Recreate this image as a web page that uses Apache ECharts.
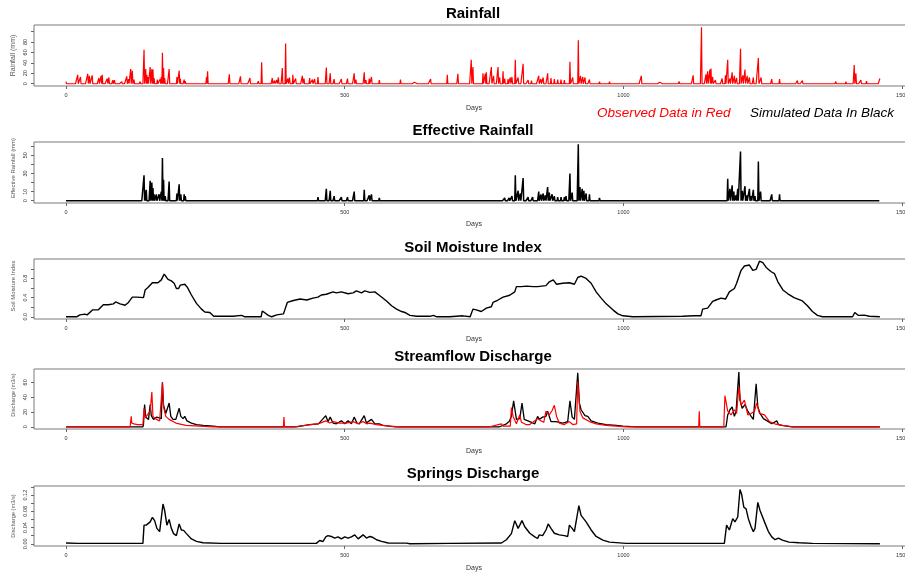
<!DOCTYPE html>
<html><head><meta charset="utf-8">
<script src="https://cdn.jsdelivr.net/npm/echarts@6/dist/echarts.min.js"></script>
<style>html,body{margin:0;padding:0;background:#fff;overflow:hidden;width:905px;height:573px}#c{width:925px;height:573px}</style>
</head><body><div id="c"></div>
<script>
// ---------------- DATA (days, values) ----------------
const nDays = 1461;
// Rainfall (mm): [day, value] for rain days, 0 elsewhere
const rainfallEvents = [[0,4],[21,17],[26,13],[39,19],[42,15],[47,16],[59,11],[63,15],[65,17],[74,10],[77,12],[84,7],[87,7],[100,4],[109,14],[112,9],[116,28],[119,25],[122,8],[133,4],[140,65],[143,28],[145,17],[147,13],[151,32],[154,28],[156,27],[158,11],[164,8],[169,9],[171,13],[173,59],[175,30],[177,11],[185,28],[199,13],[203,25],[205,10],[212,8],[214,5],[252,13],[254,24],[293,18],[313,14],[330,11],[345,5],[351,41],[370,11],[374,6],[378,7],[381,12],[388,30],[394,77],[398,10],[401,12],[407,17],[412,10],[424,15],[427,10],[437,11],[442,8],[446,9],[452,13],[467,31],[474,20],[481,9],[494,9],[505,10],[517,20],[520,8],[535,22],[538,7],[544,10],[548,13],[562,7],[600,8],[625,3],[654,9],[684,17],[703,19],[727,46],[730,32],[748,20],[752,19],[754,22],[763,32],[767,15],[775,32],[778,12],[784,24],[787,10],[793,9],[797,12],[800,13],[806,46],[811,12],[820,38],[829,7],[835,6],[848,15],[852,9],[856,12],[864,20],[870,11],[876,9],[882,8],[888,8],[894,7],[904,42],[909,12],[919,83],[923,15],[927,13],[931,12],[939,8],[957,4],[975,4],[1032,15],[1065,3],[1100,4],[1107,3],[1125,16],[1140,108],[1148,18],[1151,24],[1155,27],[1157,29],[1160,13],[1165,7],[1177,10],[1183,16],[1187,46],[1191,10],[1195,22],[1199,15],[1203,11],[1210,67],[1214,16],[1218,27],[1222,15],[1226,12],[1233,12],[1242,49],[1247,12],[1266,9],[1280,9],[1312,6],[1321,6],[1360,3],[1381,4],[1399,4],[1414,36],[1417,20],[1426,7],[1436,5],[1460,10]];
// Effective rainfall (mm)
const effRainEvents = [[140,28],[142,11],[144,12],[151,22],[154,20],[156,14],[158,7],[162,7],[167,7],[171,10],[173,47],[175,23],[178,5],[185,21],[199,8],[203,18],[206,7],[212,7],[214,5],[452,4],[467,13],[474,11],[481,5],[494,4],[505,4],[517,10],[535,12],[544,6],[548,7],[562,3],[787,3],[795,3],[800,5],[806,28],[811,11],[815,8],[820,25],[829,4],[837,4],[848,10],[852,7],[856,8],[860,6],[864,15],[867,9],[872,7],[876,5],[882,4],[888,4],[894,4],[897,5],[904,30],[908,9],[919,62],[922,15],[926,13],[929,11],[933,8],[939,7],[957,3],[1187,24],[1191,13],[1195,17],[1198,10],[1202,6],[1205,13],[1210,54],[1213,11],[1218,16],[1221,6],[1226,13],[1229,5],[1233,12],[1236,5],[1242,43],[1246,10],[1266,7],[1280,7]];
// Soil moisture index
const soilMoisture = [[0,0],[19,0],[25,0.04],[34,0.055],[38,0.04],[48,0.145],[58,0.145],[67,0.25],[76,0.25],[85,0.27],[89,0.31],[97,0.27],[106,0.24],[112,0.30],[119,0.41],[127,0.41],[139,0.40],[142,0.56],[147,0.61],[155,0.71],[165,0.71],[171,0.77],[176,0.89],[180,0.83],[183,0.78],[189,0.75],[194,0.70],[198,0.59],[202,0.59],[205,0.66],[213,0.68],[218,0.61],[225,0.455],[234,0.28],[243,0.16],[249,0.10],[258,0.09],[265,0.01],[300,0.01],[315,0.03],[321,0],[350,0],[352,0.12],[357,0.08],[363,0.03],[369,0],[378,0.04],[390,0.06],[393,0.16],[397,0.30],[408,0.34],[420,0.37],[432,0.35],[443,0.39],[452,0.41],[458,0.455],[467,0.47],[479,0.52],[485,0.50],[494,0.52],[506,0.48],[515,0.50],[521,0.54],[530,0.50],[536,0.54],[545,0.51],[554,0.52],[563,0.44],[575,0.33],[584,0.23],[593,0.16],[602,0.11],[608,0.09],[617,0.03],[629,0.01],[653,0.01],[659,0.03],[665,0],[682,0],[685,0.02],[688,0],[712,0.02],[725,0],[730,0.16],[736,0.145],[745,0.11],[754,0.18],[763,0.21],[766,0.30],[775,0.35],[784,0.41],[796,0.45],[805,0.52],[808,0.63],[817,0.63],[826,0.64],[838,0.63],[846,0.63],[849,0.66],[861,0.65],[867,0.73],[874,0.77],[880,0.68],[891,0.70],[903,0.71],[906,0.73],[912,0.68],[918,0.82],[924,0.85],[933,0.80],[942,0.70],[951,0.52],[960,0.39],[969,0.27],[981,0.145],[990,0.06],[999,0.02],[1017,0],[1106,0.01],[1127,0.02],[1139,0.02],[1142,0.16],[1151,0.18],[1160,0.32],[1166,0.35],[1175,0.39],[1183,0.37],[1190,0.52],[1199,0.59],[1203,0.70],[1211,0.97],[1217,1.06],[1226,1.08],[1232,0.97],[1238,0.99],[1244,1.16],[1250,1.13],[1256,1.03],[1265,0.94],[1271,0.90],[1277,0.73],[1286,0.56],[1295,0.48],[1306,0.40],[1321,0.33],[1330,0.23],[1339,0.11],[1348,0.03],[1357,0],[1411,0],[1415,0.09],[1421,0.03],[1432,0.035],[1441,0.01],[1460,0]];
// Streamflow discharge (m3/s): simulated (black) and observed (red)
const flowSimulated = [[0,0],[138,0],[139,3],[141,30],[143,13],[145,14],[148,10],[151,30],[153,15],[155,14],[157,10],[160,8],[163,13],[165,11],[171,11],[173,60],[175,29],[179,18],[185,32],[188,14],[192,10],[197,10],[203,25],[206,14],[210,11],[213,14],[217,8],[225,5],[234,3],[246,2],[264,1],[276,0],[413,0],[437,3],[453,4],[466,15],[470,7],[474,13],[479,5],[485,4],[494,8],[500,4],[506,8],[512,4],[517,13],[522,5],[526,4],[535,15],[539,5],[544,8],[548,10],[554,4],[562,4],[568,2],[580,1],[591,0],[778,0],[790,4],[795,7],[799,14],[803,35],[808,10],[814,11],[818,32],[822,10],[832,7],[841,4],[846,14],[849,10],[855,13],[861,14],[864,21],[870,7],[879,7],[891,5],[900,7],[904,35],[908,13],[912,10],[918,73],[921,32],[924,23],[927,21],[931,15],[936,14],[942,8],[954,5],[969,3],[987,2],[999,1],[1023,0],[1184,0],[1187,16],[1191,23],[1195,27],[1199,14],[1202,21],[1207,74],[1209,36],[1213,25],[1218,30],[1223,21],[1229,14],[1233,10],[1238,58],[1241,27],[1245,18],[1251,11],[1260,7],[1266,4],[1275,8],[1278,3],[1284,2],[1302,0],[1460,0]];
const flowObserved = [[0,0],[115,0],[117,14],[118,5],[122,4],[128,3],[138,3],[140,25],[142,12],[145,10],[151,21],[154,47],[156,14],[162,10],[168,8],[171,8],[173,59],[175,27],[179,14],[185,10],[197,5],[203,4],[215,2],[240,1],[264,0],[390,0],[391,13],[392,0],[410,0],[450,4],[456,5],[466,8],[473,5],[479,7],[491,5],[503,5],[515,7],[524,4],[533,7],[539,4],[545,5],[557,3],[569,2],[581,1],[599,0],[760,0],[781,4],[784,1],[797,1],[799,26],[802,14],[808,4],[814,16],[817,6],[825,3],[832,3],[846,11],[852,8],[857,6],[861,21],[867,16],[872,22],[876,29],[880,14],[885,5],[894,3],[903,7],[909,3],[916,4],[918,61],[922,21],[927,12],[939,7],[951,4],[969,2],[987,1],[1005,0],[1135,0],[1136,21],[1137,0],[1158,0],[1160,2],[1162,0],[1180,0],[1182,42],[1187,21],[1193,16],[1199,23],[1203,18],[1207,54],[1211,29],[1217,36],[1223,16],[1229,18],[1235,21],[1239,32],[1244,18],[1253,16],[1262,7],[1271,4],[1286,2],[1303,0],[1460,0]];
// Springs discharge (m3/s)
const springsFlow = [[0,0.002],[22,0.001],[138,0.001],[140,0.046],[144,0.046],[147,0.042],[151,0.054],[155,0.065],[159,0.057],[163,0.038],[168,0.030],[171,0.034],[174,0.098],[177,0.082],[181,0.046],[185,0.060],[189,0.038],[193,0.025],[198,0.020],[203,0.049],[207,0.034],[211,0.033],[216,0.025],[225,0.012],[234,0.006],[246,0.0024],[278,0.001],[449,0.001],[455,0.008],[461,0.0056],[466,0.017],[470,0.020],[476,0.018],[482,0.014],[488,0.017],[494,0.012],[500,0.017],[506,0.014],[512,0.017],[518,0.022],[524,0.012],[533,0.022],[539,0.014],[545,0.018],[550,0.016],[557,0.010],[566,0.006],[578,0.002],[611,0.0016],[617,0],[688,0.001],[781,0.002],[790,0.010],[799,0.025],[805,0.057],[811,0.038],[814,0.046],[818,0.057],[823,0.042],[832,0.026],[841,0.017],[846,0.013],[849,0.022],[855,0.020],[861,0.034],[865,0.049],[870,0.038],[876,0.026],[885,0.022],[894,0.020],[900,0.018],[903,0.046],[908,0.038],[912,0.030],[920,0.094],[924,0.070],[933,0.054],[942,0.034],[951,0.018],[963,0.009],[975,0.004],[1005,0.001],[1181,0.001],[1185,0.046],[1190,0.034],[1196,0.062],[1200,0.054],[1205,0.066],[1209,0.134],[1212,0.122],[1216,0.090],[1220,0.086],[1224,0.062],[1229,0.042],[1233,0.030],[1236,0.038],[1241,0.102],[1245,0.082],[1253,0.054],[1260,0.030],[1266,0.017],[1272,0.010],[1278,0.014],[1285,0.009],[1297,0.004],[1315,0.0024],[1339,0.001],[1460,0]];
// Tick values / labels
const xTicks = [0, 500, 1000, 1500];
const rainTicks = [0,20,40,60,80,100];      const rainLabels = [0,20,40,60,80];
const effTicks = [0,10,20,30,40,50,60];      const effLabels = [0,10,30,50];
const soilTicks = [0,0.2,0.4,0.6,0.8,1.0];   const soilLabels = [0,0.4,0.8];
const flowTicks = [0,20,40,60];              const flowLabels = [0,20,40,60];
const springTicks = [0,0.02,0.04,0.06,0.08,0.10,0.12,0.14]; const springLabels = [0,0.04,0.08,0.12];
const panelTitles = ['Rainfall','Effective Rainfall','Soil Moisture Index','Streamflow Discharge','Springs Discharge'];
const yNames = ['Rainfall (mm)','Effective Rainfall (mm)','Soil Moisture Index','Discharge (m3/s)','Discharge (m3/s)'];

// ---------------- build ----------------
function daily(events){ const a=[]; for(let d=0; d<nDays; d++) a.push([d,0]); events.forEach(e=>{a[e[0]][1]=e[1];}); return a; }
const FONT = '"Liberation Sans", Arial, sans-serif';
const tops = [25,142,259,369,486];
const heights = [61,61,60,60,60];
const yRanges = [[-4.32,112.32],[-2.48,64.48],[-0.0464,1.2064],[-3,78],[-0.00548,0.14248]];
const yTickSets = [rainTicks,effTicks,soilTicks,flowTicks,springTicks];
const yLabelSets = [rainLabels,effLabels,soilLabels,flowLabels,springLabels];
const yFmt = [v=>String(v), v=>String(v), v=>v.toFixed(1), v=>String(v), v=>v.toFixed(2)];

const grids=[], xAxes=[], yAxes=[];
for(let i=0;i<5;i++){
  grids.push({left:34, top:tops[i], width:879, height:heights[i], show:true, borderColor:'#7a7a7a', borderWidth:1, backgroundColor:'transparent', containLabel:false});
  xAxes.push({type:'value', gridIndex:i, min:-57.4, max:1519.4, position:'bottom',
    axisLine:{show:false, onZero:false}, splitLine:{show:false},
    axisTick:{show:true, inside:false, length:3, customValues:xTicks, lineStyle:{color:'#666',width:1}},
    axisLabel:{show:true, customValues:xTicks, fontSize:5.5, color:'#333', margin:6, fontFamily:FONT, formatter:v=>String(v)}});
  const f = yFmt[i];
  yAxes.push({type:'value', gridIndex:i, min:yRanges[i][0], max:yRanges[i][1], position:'left',
    axisLine:{show:false, onZero:false}, splitLine:{show:false},
    axisTick:{show:true, inside:false, length:3, customValues:yTickSets[i], lineStyle:{color:'#666',width:1}},
    axisLabel:{show:true, customValues:yLabelSets[i], rotate:90, fontSize:5.5, color:'#333', margin:6, fontFamily:FONT, formatter:v=>f(v)}});
}
function ser(idx, data, color, w){
  return {type:'line', xAxisIndex:idx, yAxisIndex:idx, data:data, showSymbol:false, symbol:'none',
    silent:true, animation:false, clip:true, lineStyle:{color:color, width:w, join:'bevel'}};
}
const series = [
  ser(0, daily(rainfallEvents), '#ff0000', 1.2),
  ser(1, daily(effRainEvents), '#000000', 1.5),
  ser(2, soilMoisture, '#000000', 1.4),
  ser(3, flowSimulated, '#000000', 1.3),
  ser(3, flowObserved, '#ff0000', 1.2),
  ser(4, springsFlow, '#000000', 1.4)
];

const titleY = [13.5,130.5,247.5,357,473.5];
const daysY = [108,224,339,451,568];
const yNameY = [55.5,168,286,395,516];
const yNameSize = [7,6,6,5.7,5.7];
const graphic = [];
for(let i=0;i<5;i++){
  graphic.push({type:'text', x:473, y:titleY[i], style:{text:panelTitles[i], font:'bold 15px '+FONT, fill:'#000', align:'center', verticalAlign:'middle', textAlign:'center', textVerticalAlign:'middle'}});
  graphic.push({type:'text', x:474, y:daysY[i], style:{text:'Days', font:'7px '+FONT, fill:'#333', align:'center', verticalAlign:'middle', textAlign:'center', textVerticalAlign:'middle'}});
  graphic.push({type:'text', x:13, y:yNameY[i], rotation:Math.PI/2, style:{text:yNames[i], font:yNameSize[i]+'px '+FONT, fill:'#555', align:'center', verticalAlign:'middle', textAlign:'center', textVerticalAlign:'middle'}});
}
graphic.push({type:'text', x:597, y:113, style:{text:'Observed Data in Red', font:'italic 13.5px '+FONT, fill:'#ff0000', align:'left', verticalAlign:'middle', textAlign:'left', textVerticalAlign:'middle'}});
graphic.push({type:'text', x:750, y:113, style:{text:'Simulated Data In Black', font:'italic 13.5px '+FONT, fill:'#000', align:'left', verticalAlign:'middle', textAlign:'left', textVerticalAlign:'middle'}});

const chart = echarts.init(document.getElementById('c'), null, {renderer:'canvas', width:925, height:573});
chart.setOption({animation:false, backgroundColor:'#fff', grid:grids, xAxis:xAxes, yAxis:yAxes, series:series, graphic:graphic});
</script></body></html>
